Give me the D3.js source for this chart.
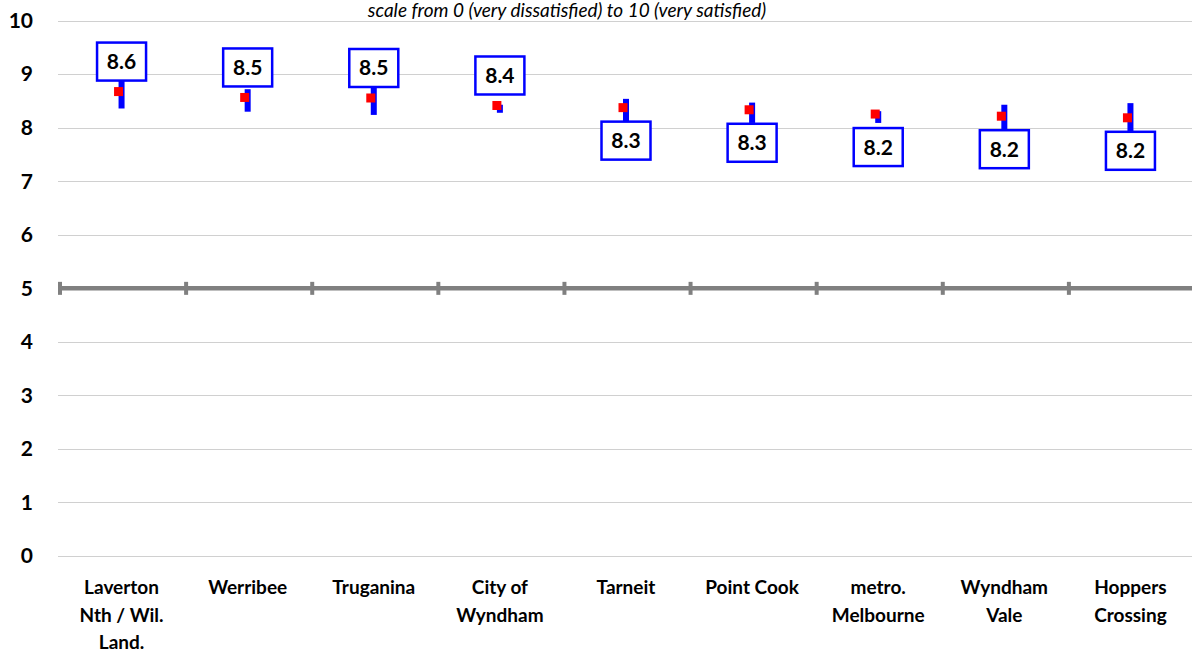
<!DOCTYPE html>
<html>
<head>
<meta charset="utf-8">
<script src="https://cdn.jsdelivr.net/npm/d3@7"></script>
<style>
  html, body { margin: 0; padding: 0; background: #fff; }
  svg { display: block; }
  text { font-family: Lato, "Open Sans", sans-serif; }
</style>
</head>
<body>
<svg id="chart" width="1192" height="653"></svg>
<script>
const categories = [
  ["Laverton", "Nth / Wil.", "Land."],
  ["Werribee"],
  ["Truganina"],
  ["City of", "Wyndham"],
  ["Tarneit"],
  ["Point Cook"],
  ["metro.", "Melbourne"],
  ["Wyndham", "Vale"],
  ["Hoppers", "Crossing"]
];
const means  = [8.62, 8.51, 8.50, 8.36, 8.32, 8.28, 8.20, 8.16, 8.13];
const lows   = [8.36, 8.30, 8.24, 8.28, 8.10, 8.09, 8.09, 7.89, 7.84];
const highs  = [8.88, 8.72, 8.76, 8.43, 8.54, 8.47, 8.31, 8.43, 8.46];
const valueLabels = ["8.6", "8.5", "8.5", "8.4", "8.3", "8.3", "8.2", "8.2", "8.2"];
const labelSide = ["above", "above", "above", "above", "below", "below", "below", "below", "below"];
const yTicks = [0, 1, 2, 3, 4, 5, 6, 7, 8, 9, 10];
const referenceValue = 5;
const title = "scale from 0 (very dissatisfied) to 10 (very satisfied)";

const svg = d3.select("#chart");
const idx = d3.range(categories.length);

const x = d3.scaleBand().domain(idx).range([58.5, 1193.5]).padding(0);
const y = d3.scaleLinear().domain([0, 10]).range([556, 20.7]);

// gridlines
svg.append("g").selectAll("line").data(yTicks.filter(t => t !== referenceValue)).join("line")
  .attr("x1", 58).attr("x2", 1192)
  .attr("y1", d => Math.round(y(d)) + 0.5).attr("y2", d => Math.round(y(d)) + 0.5)
  .attr("stroke", "#d0d0d0").attr("stroke-width", 1);

// title
svg.append("text")
  .attr("x", 567).attr("y", 17)
  .attr("text-anchor", "middle")
  .style("font-style", "italic")
  .style("font-size", "19px")
  .attr("fill", "#000")
  .text(title);

// y axis labels
const yAxis = d3.axisLeft(y).tickValues(yTicks).tickSize(0).tickPadding(0);
const yg = svg.append("g").attr("transform", "translate(33,0)").call(yAxis);
yg.select(".domain").remove();
yg.selectAll("text")
  .style("font-family", "Lato, sans-serif")
  .style("font-size", "21px")
  .style("font-weight", "bold")
  .attr("fill", "#000");

// reference line at 5 with category ticks
const refY = y(referenceValue);
svg.append("line")
  .attr("x1", x.range()[0]).attr("x2", 1192)
  .attr("y1", refY).attr("y2", refY)
  .attr("stroke", "#808080").attr("stroke-width", 4.5);
const bounds = idx.map(i => x(i)).concat([x.range()[1]]);
svg.append("g").selectAll("line").data(bounds).join("line")
  .attr("x1", d => d + 1.5).attr("x2", d => d + 1.5)
  .attr("y1", refY - 6.5).attr("y2", refY + 6.5)
  .attr("stroke", "#808080").attr("stroke-width", 4);

// category labels
const cx = i => x(i) + x.bandwidth() / 2;
const catG = svg.append("g");
idx.forEach(i => {
  const t = catG.append("text")
    .attr("text-anchor", "middle")
    .attr("x", cx(i)).attr("y", 594)
    .style("font-size", "19px").style("font-weight", "bold")
    .attr("fill", "#000");
  categories[i].forEach((line, k) => {
    t.append("tspan").attr("x", cx(i)).attr("dy", k === 0 ? 0 : 27.5).text(line);
  });
});

// error bars
svg.append("g").selectAll("rect").data(idx).join("rect")
  .attr("x", i => cx(i) - 3)
  .attr("width", 6)
  .attr("y", i => y(highs[i]))
  .attr("height", i => y(lows[i]) - y(highs[i]))
  .attr("fill", "#0000ff");

// mean markers (offset like the original)
svg.append("g").selectAll("rect").data(idx).join("rect")
  .attr("x", i => cx(i) - 3 - 4.5)
  .attr("y", i => y(means[i]) - 3 - 4.5)
  .attr("width", 9).attr("height", 9)
  .attr("fill", "#ff0000");

// value label boxes
const boxW = 49, boxH = 38;
const lg = svg.append("g").selectAll("g").data(idx).join("g")
  .attr("transform", i => {
    const top = labelSide[i] === "above" ? y(means[i]) - 14 - boxH : y(means[i]) + 11;
    return `translate(${cx(i) - boxW / 2},${top})`;
  });
lg.append("rect")
  .attr("width", boxW).attr("height", boxH)
  .attr("fill", "#fff").attr("stroke", "#0000ff").attr("stroke-width", 2.5);
lg.append("text")
  .attr("x", boxW / 2).attr("y", boxH / 2 + 7.5)
  .attr("text-anchor", "middle")
  .style("font-size", "21px").style("font-weight", "bold")
  .attr("fill", "#000")
  .text(i => valueLabels[i]);
</script>
</body>
</html>
